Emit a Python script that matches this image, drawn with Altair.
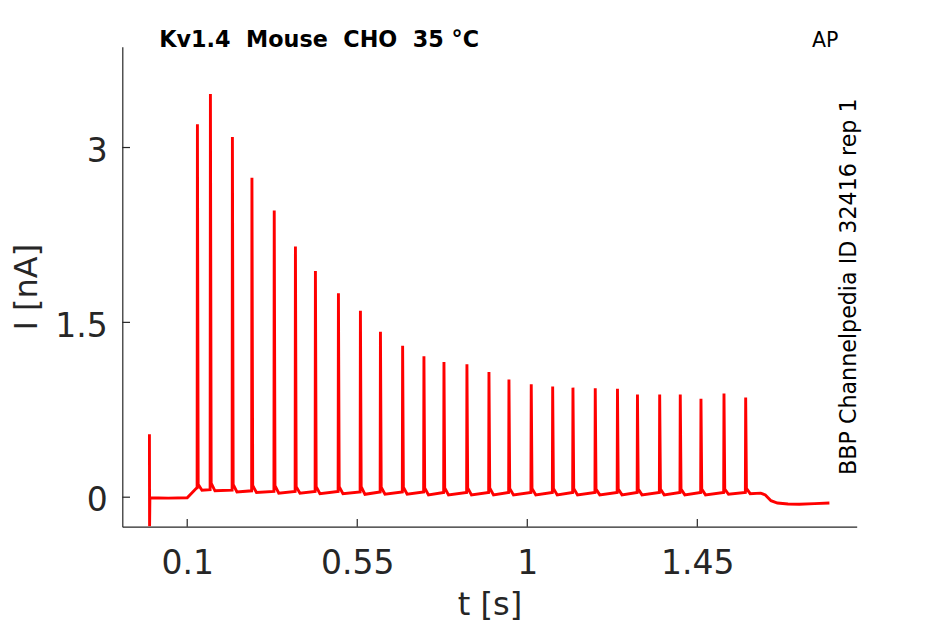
import altair as alt
import pandas as pd

# ---------------- text ----------------
TITLE_TEXT = "Kv1.4\u00a0 Mouse\u00a0 CHO\u00a0 35 °C"
CORNER_TEXT = "AP"
SIDE_TEXT = "BBP Channelpedia ID 32416 rep 1"
X_TITLE = "t [s]"
Y_TITLE = "I [nA]"

# ---------------- axes ----------------
x_tick_values = [0.1, 0.55, 1, 1.45]
y_tick_values = [0, 1.5, 3]
x_domain = [-0.0718, 1.8718]
y_domain = [-0.253, 3.865]

# ---------------- trace ----------------
# onset: stimulus artefact at t=0, flat baseline, small step at 0.1 s
onset_t = [0.0, 0.0004, 0.0012, 0.05, 0.100, 0.1248]
onset_i = [0.54, -0.25, -0.005, -0.008, -0.005, 0.079]

# action-potential evoked current spikes
spike_t = [0.1270, 0.1614, 0.2196, 0.2713, 0.3303, 0.3864, 0.4393, 0.5002, 0.5584,
           0.6114, 0.6701, 0.7265, 0.7795, 0.8403, 0.8986, 0.9515, 1.0105, 1.0672,
           1.1209, 1.1799, 1.2387, 1.2916, 1.3504, 1.4049, 1.4597, 1.5206, 1.5780]
spike_peak = [3.20, 3.46, 3.09, 2.74, 2.46, 2.15, 1.94, 1.75, 1.60,
              1.42, 1.30, 1.21, 1.16, 1.14, 1.075, 1.01, 0.97, 0.95,
              0.94, 0.935, 0.93, 0.88, 0.88, 0.88, 0.845, 0.89, 0.855]
spike_pre = [0.080, 0.065, 0.060, 0.055, 0.050, 0.050, 0.050, 0.050, 0.045,
             0.045, 0.045, 0.045, 0.040, 0.040, 0.040, 0.040, 0.040, 0.040,
             0.040, 0.040, 0.040, 0.040, 0.040, 0.040, 0.040, 0.040, 0.040]
spike_hump = [0.11, 0.12, 0.11, 0.10, 0.10, 0.09, 0.09, 0.09, 0.09,
              0.085, 0.085, 0.08, 0.08, 0.08, 0.08, 0.075, 0.075, 0.075,
              0.075, 0.07, 0.07, 0.07, 0.07, 0.07, 0.07, 0.07, 0.075]
spike_dip = [0.060, 0.055, 0.045, 0.040, 0.035, 0.035, 0.030, 0.030, 0.025,
             0.025, 0.025, 0.020, 0.020, 0.020, 0.020, 0.020, 0.020, 0.020,
             0.020, 0.020, 0.020, 0.020, 0.020, 0.020, 0.020, 0.025, 0.030]

# end of train: relaxation below baseline
tail_t = [1.6177, 1.630, 1.645, 1.662, 1.690, 1.720, 1.760, 1.7996]
tail_i = [0.035, 0.020, -0.030, -0.050, -0.058, -0.060, -0.055, -0.050]

# ---------------- build table ----------------
ts, vs = list(onset_t), list(onset_i)
for T, P, pre, hump, dip in zip(spike_t, spike_peak, spike_pre, spike_hump, spike_dip):
    ts += [T - 0.0008, T, T + 0.0020, T + 0.0120]
    vs += [pre, P, hump, dip]
ts += tail_t
vs += tail_i
trace = pd.DataFrame({"t": ts, "i": vs, "k": list(range(len(ts)))})

INK = "#262626"
W, H = 734.4, 480
LABEL_EXPR = "'' + datum.value"

x_axis = alt.Axis(values=x_tick_values, labelExpr=LABEL_EXPR, grid=False, ticks=False, tickSize=0,
                  labelFontSize=33, labelColor=INK, labelPadding=20.7, labelFlush=False,
                  domainColor=INK, domainWidth=1.2,
                  title=X_TITLE, titleFontSize=32, titleFontWeight="normal", titleColor=INK,
                  titleBaseline="alphabetic", titleY=88.3)
y_axis = alt.Axis(values=y_tick_values, labelExpr=LABEL_EXPR, grid=False, ticks=False, tickSize=0,
                  labelFontSize=33, labelColor=INK, labelPadding=15, labelOffset=3.7,
                  labelFlush=False, domainColor=INK, domainWidth=1.2,
                  title=Y_TITLE, titleFontSize=32, titleFontWeight="normal", titleColor=INK,
                  titleBaseline="alphabetic", titleX=-85.5)

x_enc = alt.X("t:Q", scale=alt.Scale(domain=x_domain, nice=False, zero=False), axis=x_axis)
y_enc = alt.Y("i:Q", scale=alt.Scale(domain=y_domain, nice=False, zero=False), axis=y_axis)

line = alt.Chart(trace).mark_line(color="#ff0000", strokeWidth=2.9, clip=True).encode(
    x=x_enc, y=y_enc, order="k:Q",
)

xticks = alt.Chart(pd.DataFrame({"t": x_tick_values})).mark_rule(color=INK, strokeWidth=1.2).encode(
    x=x_enc, y=alt.value(H), y2=alt.value(H - 7.7)
)
yticks = alt.Chart(pd.DataFrame({"i": y_tick_values})).mark_rule(color=INK, strokeWidth=1.2).encode(
    y=y_enc, x=alt.value(0), x2=alt.value(7.7)
)

title_txt = alt.Chart(pd.DataFrame({"s": [TITLE_TEXT]})).mark_text(
    align="left", baseline="alphabetic", fontSize=22.3, fontWeight="bold", color="black"
).encode(text="s:N", x=alt.value(37), y=alt.value(0))

corner_txt = alt.Chart(pd.DataFrame({"s": [CORNER_TEXT]})).mark_text(
    align="right", baseline="alphabetic", fontSize=20.5, color="black"
).encode(text="s:N", x=alt.value(716), y=alt.value(0))

side_txt = alt.Chart(pd.DataFrame({"s": [SIDE_TEXT]})).mark_text(
    align="center", baseline="alphabetic", fontSize=22.2, color="black", angle=270
).encode(text="s:N", x=alt.value(733.7), y=alt.value(240))

chart = alt.layer(line, xticks, yticks, title_txt, corner_txt, side_txt).properties(
    width=W, height=H,
    autosize=alt.AutoSizeParams(type="none"),
    padding={"left": 114.3, "top": 38.7, "right": 80, "bottom": 97},
    background="white",
).configure(font="DejaVu Sans").configure_view(stroke=None)

chart.save("out.html", embed_options={"renderer": "svg", "actions": False})
